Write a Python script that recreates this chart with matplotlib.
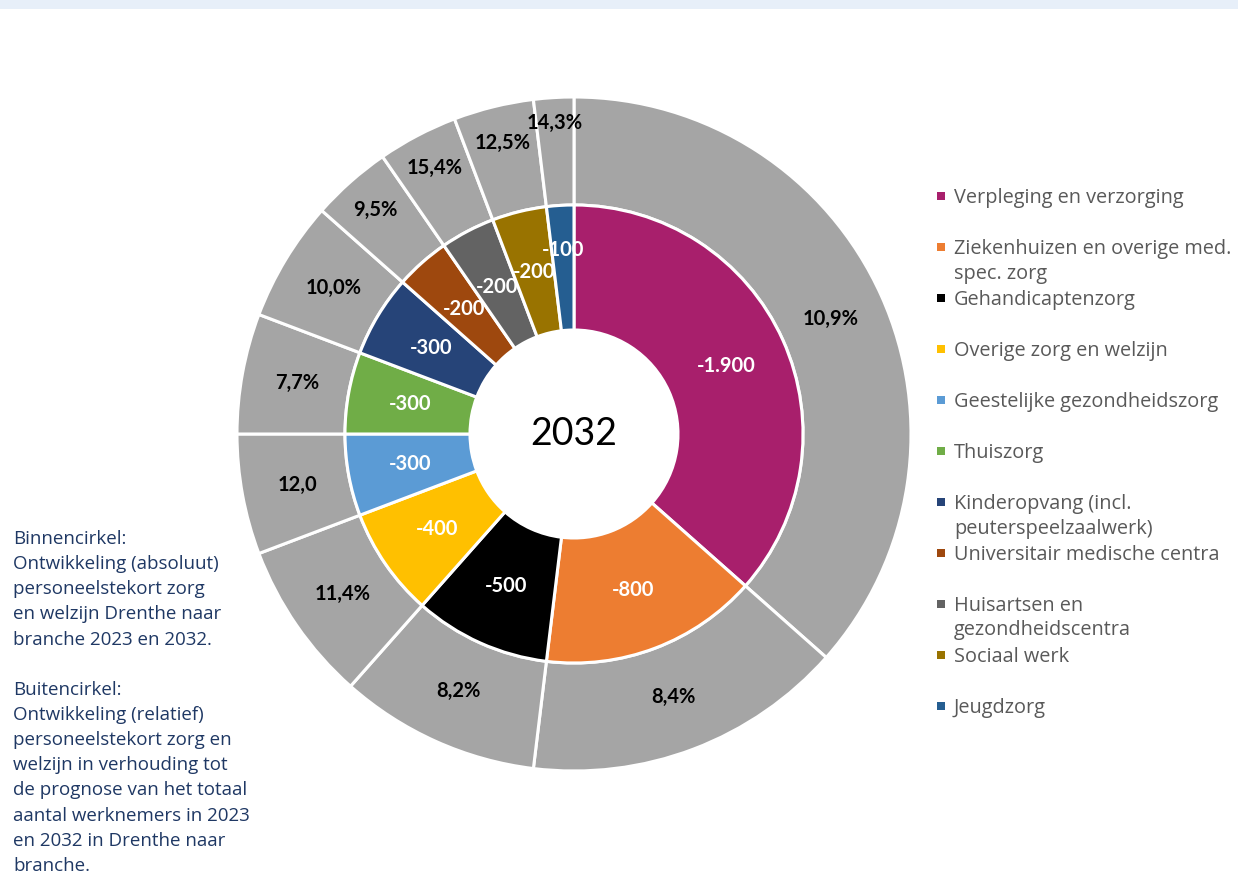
import matplotlib
matplotlib.use("Agg")
import matplotlib.pyplot as plt
import numpy as np
from matplotlib.patches import Rectangle

# ---- data ----
branches = [
    "Verpleging en verzorging",
    "Ziekenhuizen en overige med.\nspec. zorg",
    "Gehandicaptenzorg",
    "Overige zorg en welzijn",
    "Geestelijke gezondheidszorg",
    "Thuiszorg",
    "Kinderopvang (incl.\npeuterspeelzaalwerk)",
    "Universitair medische centra",
    "Huisartsen en\ngezondheidscentra",
    "Sociaal werk",
    "Jeugdzorg",
]
absolute = [-1900, -800, -500, -400, -300, -300, -300, -200, -200, -200, -100]
inner_labels = ["-1.900", "-800", "-500", "-400", "-300", "-300", "-300", "-200", "-200", "-200", "-100"]
outer_labels = ["10,9%", "8,4%", "8,2%", "11,4%", "12,0", "7,7%", "10,0%", "9,5%", "15,4%", "12,5%", "14,3%"]
colors = ["#A81F6C", "#ED7D31", "#000000", "#FFC000", "#5B9BD5", "#70AD47",
          "#264478", "#9E480E", "#636363", "#997300", "#255E91"]
center_title = "2032"
side_text = ("Binnencirkel:\nOntwikkeling (absoluut)\npersoneelstekort zorg\nen welzijn Drenthe naar\n"
             "branche 2023 en 2032.\n\nBuitencirkel:\nOntwikkeling (relatief)\npersoneelstekort zorg en\n"
             "welzijn in verhouding tot\nde prognose van het totaal\naantal werknemers in 2023\n"
             "en 2032 in Drenthe naar\nbranche.")

sizes = [abs(v) for v in absolute]

W, H = 1238, 880
fig = plt.figure(figsize=(W / 100, H / 100), dpi=100)
fig.patch.set_facecolor("white")

# top band
fig.patches.append(Rectangle((0, 1 - 9 / H), 1, 9 / H, transform=fig.transFigure,
                             facecolor="#E7EFF9", edgecolor="none", zorder=0))

cx, cy, R = 574, 434, 337
ax = fig.add_axes([(cx - R) / W, (H - cy - R) / H, 2 * R / W, 2 * R / H])

r_mid = 229 / R
r_hole = 104 / R

outer_w, _ = ax.pie(sizes, radius=1.0, startangle=90, counterclock=False,
                    colors=["#A5A5A5"] * len(sizes),
                    wedgeprops=dict(width=1.0 - r_mid, edgecolor="white", linewidth=2.2))
inner_w, _ = ax.pie(sizes, radius=r_mid, startangle=90, counterclock=False,
                    colors=colors,
                    wedgeprops=dict(width=r_mid - r_hole, edgecolor="white", linewidth=2.2))
ax.set_xlim(-1, 1)
ax.set_ylim(-1, 1)
ax.set_aspect("auto")
ax.axis("off")

font = "Lato"
for i, w in enumerate(inner_w):
    ang = np.deg2rad((w.theta1 + w.theta2) / 2)
    span = w.theta2 - w.theta1
    r = (r_mid + r_hole) / 2
    if span < 10:
        r = 184 / R
    ax.text(r * np.cos(ang), r * np.sin(ang), inner_labels[i], ha="center", va="center",
            color="white", fontsize=14.5, fontweight="bold", family=font)

for i, w in enumerate(outer_w):
    ang = np.deg2rad((w.theta1 + w.theta2) / 2)
    span = w.theta2 - w.theta1
    r = 0.835
    if span < 10:
        r = 0.925
    elif span < 14:
        r = 0.89
    ax.text(r * np.cos(ang), r * np.sin(ang), outer_labels[i], ha="center", va="center",
            color="black", fontsize=14.5, fontweight="bold", family=font)

ax.text(0, 0, center_title, ha="center", va="center", fontsize=27, family=font, color="black")

# legend (manual)
leg_color = "#595959"
y0 = 196
for i, (lab, c) in enumerate(zip(branches, colors)):
    y = y0 + 51 * i
    fig.patches.append(Rectangle((937 / W, 1 - (y + 4) / H), 8 / W, 8 / H,
                                 transform=fig.transFigure, facecolor=c, edgecolor="none"))
    fig.text(954 / W, 1 - (y - 8) / H, lab, ha="left", va="top", fontsize=14.3,
             family="Open Sans", color=leg_color, linespacing=1.3)

fig.text(13 / W, 1 - 530 / H, side_text, ha="left", va="top", fontsize=13.5,
         family="Open Sans", color="#1F3864", linespacing=1.51)

fig.savefig("out.png", dpi=100, facecolor="white")
